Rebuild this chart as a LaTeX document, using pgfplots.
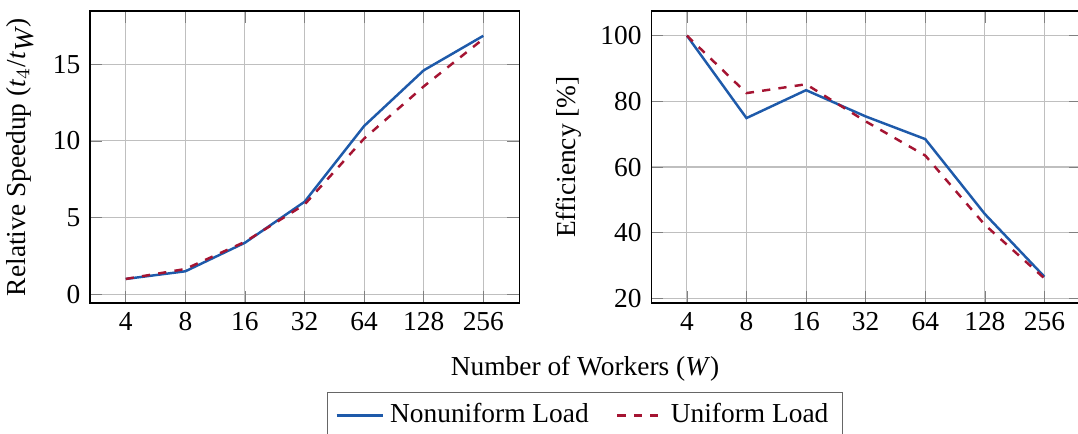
\documentclass[border=0pt]{standalone}
\usepackage{fontspec}
\setmainfont{Liberation Serif}
\usepackage{pgfplots}
\pgfplotsset{compat=1.18}
\definecolor{cblue}{RGB}{30,90,170}
\definecolor{cred}{RGB}{165,20,50}
\begin{document}
\begin{tikzpicture}
\pgfplotsset{
  every axis/.append style={
    scale only axis, width=156.6pt, height=106.6pt,
    xmin=-0.6, xmax=6.6,
    xtick={0,1,2,3,4,5,6},
    xticklabels={4,8,16,32,64,128,256},
    grid=major,
    /pgf/number format/assume math mode=true,
    tick label style={font=\fontsize{10}{12}\selectfont},
    label style={font=\fontsize{10}{12}\selectfont},
  },
  nonu/.style={cblue, line width=0.9pt, solid},
  uni/.style={cred, line width=0.9pt, dashed},
}
\begin{axis}[name=left, at={(0,0)}, anchor=south west,
  ymin=-0.57, ymax=18.47,
  ytick={0,5,10,15},
  ylabel={Relative Speedup (\textit{t}$_4$/\textit{t}$_{\textit{W}}$)}]
\addplot[nonu] coordinates {(0,1.0) (1,1.5) (2,3.36) (3,6.03) (4,10.97) (5,14.6) (6,16.85)};
\addplot[uni] coordinates {(0,1.0) (1,1.65) (2,3.42) (3,5.85) (4,10.15) (5,13.55) (6,16.65)};
\end{axis}
\begin{axis}[name=right, at={(204.8pt,0)}, anchor=south west,
  ymin=18.6, ymax=107.5,
  ytick={20,40,60,80,100},
  ylabel={Efficiency [\%]},
  legend columns=2,
  legend style={at={(-0.155,-0.305)}, anchor=north, draw=black!60,
    font=\fontsize{10}{12}\selectfont, /tikz/every even column/.append style={column sep=8pt}},
  legend cell align=left]
\addplot[nonu] coordinates {(0,100) (1,74.9) (2,83.4) (3,75.4) (4,68.5) (5,45.7) (6,26.6)};
\addlegendentry{Nonuniform Load}
\addplot[uni] coordinates {(0,100) (1,82.5) (2,85.2) (3,73.9) (4,63.5) (5,42.4) (6,26.1)};
\addlegendentry{Uniform Load}
\end{axis}
\node[font=\fontsize{10}{12}\selectfont, anchor=base] at (180.7pt,-26.5pt) {Number of Workers (\textit{W})};
\pgfresetboundingbox
\path[use as bounding box] (-32.85pt,-47.8pt) rectangle (360.6pt,110.6pt);
\end{tikzpicture}
\end{document}
